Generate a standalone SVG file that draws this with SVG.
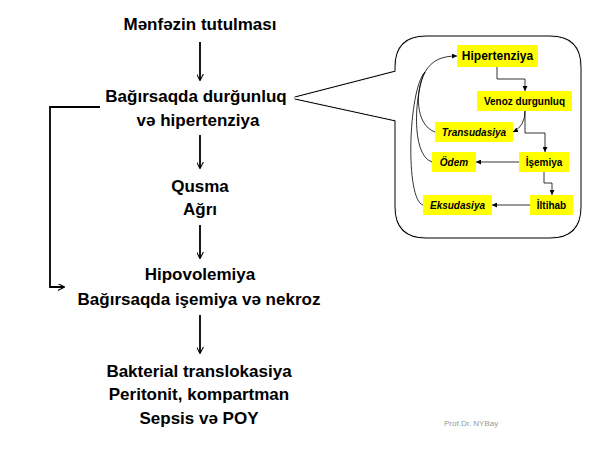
<svg xmlns="http://www.w3.org/2000/svg" width="600" height="450" viewBox="0 0 600 450">
<defs>
<style>
.main{font-family:"Liberation Sans",Arial,sans-serif;font-weight:bold;font-size:17px;fill:#000;text-anchor:middle}
.lbl{font-family:"Liberation Sans",Arial,sans-serif;font-weight:bold;font-size:10px;fill:#000;text-anchor:middle}
.it{font-style:italic}
.yb{fill:#ffff00;stroke:none}
.ln{fill:none;stroke:#000;stroke-width:1.8}
.tn{fill:none;stroke:#000;stroke-width:0.8}
</style>
<marker id="ah" viewBox="0 0 10 10" refX="9" refY="5" markerWidth="7" markerHeight="7" markerUnits="userSpaceOnUse" orient="auto">
<path d="M0,0 L10,5 L0,10" fill="none" stroke="#000" stroke-width="1.5"/>
</marker>
<marker id="sh" viewBox="0 0 10 10" refX="10" refY="5" markerWidth="5" markerHeight="5" markerUnits="userSpaceOnUse" orient="auto">
<path d="M0,0 L10,5 L0,10 z" fill="#000"/>
</marker>
</defs>
<rect width="600" height="450" fill="#fff"/>

<g id="callout">
<path d="M426,37 H550 Q580,37 580,67 V207 Q580,237 550,237 H426 Q396,237 396,207 V120 L295,98 L396,72 V67 Q396,37 426,37 Z" fill="#fff" stroke="#000" stroke-width="3" stroke-linejoin="miter"/>
<path d="M426,37 H550 Q580,37 580,67 V207 Q580,237 550,237 H426 Q396,237 396,207 V120 L295,98 L396,72 V67 Q396,37 426,37 Z" fill="#fff" stroke="#fff" stroke-width="1"/>
</g>

<g id="connectors">
<line class="ln" x1="200" y1="42" x2="200" y2="80" marker-end="url(#ah)"/>
<line class="ln" x1="200" y1="135" x2="200" y2="168" marker-end="url(#ah)"/>
<line class="ln" x1="200" y1="225" x2="200" y2="258" marker-end="url(#ah)"/>
<line class="ln" x1="200" y1="315" x2="200" y2="353" marker-end="url(#ah)"/>
<polyline class="ln" points="100,107 50,107 50,287 64,287" marker-end="url(#ah)"/>

<polyline class="tn" points="497,67 497,79 525,79 525,91" marker-end="url(#sh)"/>
<path class="tn" d="M525,111 Q525,126 513,132" marker-end="url(#sh)"/>
<polyline class="tn" points="525,111 525,133 545,133 545,152" marker-end="url(#sh)"/>
<line class="tn" x1="519" y1="162" x2="476" y2="162" marker-end="url(#sh)"/>
<polyline class="tn" points="544,172 544,183 552,183 552,195" marker-end="url(#sh)"/>
<line class="tn" x1="530" y1="205" x2="492" y2="205" marker-end="url(#sh)"/>
<path class="tn" d="M435,132 C415,125 415,90 425,72 C432,60 442,56 457,56" marker-end="url(#sh)"/>
<path class="tn" d="M432,162 C410,155 415,90 425,72"/>
<path class="tn" d="M423,205 C405,200 408,90 425,72"/>
</g>

<g id="n1"><text class="main" x="200" y="30">Mənfəzin tutulması</text></g>
<g id="n2"><text class="main" x="196" y="102">Bağırsaqda durğunluq</text><text class="main" x="198" y="126">və hipertenziya</text></g>
<g id="n3"><text class="main" x="200" y="192">Qusma</text><text class="main" x="200" y="215">Ağrı</text></g>
<g id="n4"><text class="main" x="200" y="280">Hipovolemiya</text><text class="main" x="199" y="305">Bağırsaqda işemiya və nekroz</text></g>
<g id="n5"><text class="main" x="199" y="377">Bakterial translokasiya</text><text class="main" x="199" y="400">Peritonit, kompartman</text><text class="main" x="199" y="424">Sepsis və POY</text></g>

<g id="b1"><rect class="yb" x="457" y="45" width="81" height="22"/><text class="lbl" x="497.5" y="60" style="font-size:12px">Hipertenziya</text></g>
<g id="b2"><rect class="yb" x="477" y="91" width="95" height="20"/><text class="lbl" x="524.5" y="105">Venoz durgunluq</text></g>
<g id="b3"><rect class="yb" x="435" y="122" width="78" height="20"/><text class="lbl it" x="474" y="136">Transudasiya</text></g>
<g id="b4"><rect class="yb" x="432" y="152" width="44" height="20"/><text class="lbl it" x="454" y="166">Ödem</text></g>
<g id="b5"><rect class="yb" x="519" y="152" width="50" height="20"/><text class="lbl" x="544" y="166">İşemiya</text></g>
<g id="b6"><rect class="yb" x="423" y="195" width="69" height="20"/><text class="lbl it" x="457.5" y="209">Eksudasiya</text></g>
<g id="b7"><rect class="yb" x="530" y="195" width="43" height="20"/><text class="lbl" x="551.5" y="209">İltihab</text></g>

<text x="444" y="426" style="font-family:'Liberation Sans',Arial,sans-serif;font-size:8px;fill:#999">Prof.Dr. NYBay</text>
</svg>
